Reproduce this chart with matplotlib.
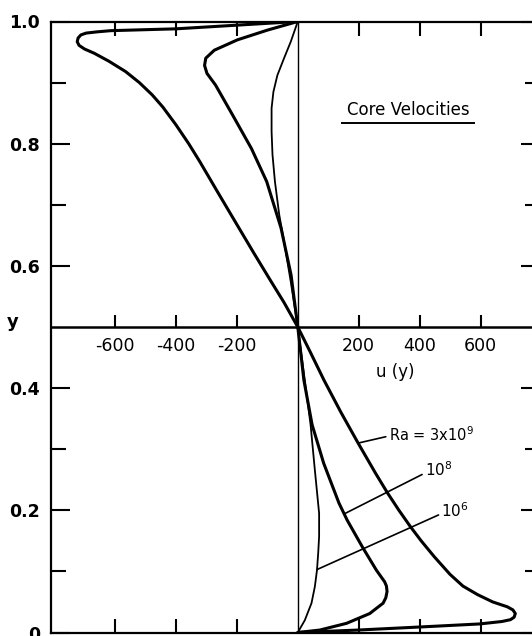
import matplotlib
matplotlib.use("Agg")
import matplotlib.pyplot as plt
from matplotlib.lines import Line2D

# ---------------- data ----------------
# Ra = 3x10^9
y_3e9 = [0.000, 0.004, 0.009, 0.014, 0.018, 0.021, 0.025, 0.031, 0.037, 0.042,
         0.050, 0.062, 0.076, 0.095, 0.124, 0.150, 0.173, 0.200, 0.228, 0.260,
         0.310, 0.360, 0.413, 0.460, 0.500, 0.540, 0.574, 0.620, 0.672, 0.720,
         0.771, 0.800, 0.831, 0.860, 0.880, 0.900, 0.918, 0.935, 0.948, 0.955,
         0.961, 0.967, 0.973, 0.978, 0.981, 0.983, 0.985, 0.988, 0.994, 1.000]
u_3e9 = [0, 197, 400, 597, 670, 698, 710, 714, 706, 688,
         640, 590, 542, 500, 448, 405, 370, 332, 295, 256,
         198, 142, 86, 40, 0, -45, -87, -143, -205, -262,
         -322, -358, -400, -443, -478, -520, -565, -620, -668, -700,
         -718, -724, -721, -712, -695, -660, -614, -400, -200, 0]

# Ra = 10^8
y_1e8 = [0.000, 0.004, 0.015, 0.031, 0.048, 0.057, 0.067, 0.076, 0.083, 0.102,
         0.140, 0.184, 0.212, 0.277, 0.340, 0.413, 0.500, 0.585, 0.662, 0.738,
         0.792, 0.847, 0.896, 0.915, 0.928, 0.940, 0.953, 0.970, 0.986, 1.000]
u_1e8 = [0, 72, 160, 236, 280, 289, 293, 291, 285, 258,
         212, 162, 135, 85, 47, 20, 0, -22, -55, -102,
         -152, -214, -270, -298, -306, -302, -274, -198, -99, 0]

# Ra = 10^6
y_1e6 = [0.000, 0.020, 0.048, 0.075, 0.102, 0.130, 0.157, 0.195, 0.266, 0.340,
         0.413, 0.500, 0.574, 0.640, 0.684, 0.738, 0.782, 0.820, 0.858, 0.885,
         0.912, 0.940, 0.967, 1.000]
u_1e6 = [0, 23, 45, 56, 63, 67, 70, 70, 56, 42,
         23, 0, -23, -45, -61, -75, -83, -86, -86, -80,
         -67, -45, -23, 0]

u_ticks = [-600, -400, -200, 200, 400, 600]
u_ticklabels = ["-600", "-400", "-200", "200", "400", "600"]
y_major = [0.0, 0.2, 0.4, 0.6, 0.8, 1.0]
y_major_labels = ["0", "0.2", "0.4", "0.6", "0.8", "1.0"]
y_minor = [0.1, 0.3, 0.7, 0.9]

curve_labels = [r"Ra = 3x10$^9$", r"10$^8$", r"10$^6$"]

# ---------------- figure ----------------
plt.rcParams["font.family"] = ["DejaVu Sans"]
plt.rcParams["mathtext.fontset"] = "dejavusans"

W, H = 532, 636
fig = plt.figure(figsize=(W / 100, H / 100), dpi=100)
left_px, right_px, top_px, bottom_px = 51, 540, 21.5, 632.5
ax = fig.add_axes([left_px / W, (H - bottom_px) / H,
                   (right_px - left_px) / W, (bottom_px - top_px) / H])
ax.set_xlim(-810, 795)
ax.set_ylim(0, 1)

for s in ax.spines.values():
    s.set_linewidth(1.6)
    s.set_color("black")

# outer x ticks (top and bottom), no labels
ax.set_xticks(u_ticks)
ax.tick_params(axis="x", which="major", direction="in", top=True, bottom=True,
               labelbottom=False, labeltop=False, length=10, width=1.5)

# y ticks
ax.set_yticks(y_major, labels=y_major_labels)
ax.set_yticks(y_minor, minor=True)
ax.tick_params(axis="y", which="both", direction="in", left=True, right=True,
               width=1.5)
ax.tick_params(axis="y", which="major", length=14, pad=8, labelsize=12.5)
ax.tick_params(axis="y", which="minor", length=11)
for lab in ax.get_yticklabels():
    lab.set_fontweight("bold")

ax.set_ylabel("y", rotation=0, fontsize=13, fontweight="bold", va="center", ha="center")
ax.yaxis.set_label_coords(-0.079, 0.508)

# central axis at y = 0.5
sec = ax.secondary_xaxis(0.5)
sec.set_alignment("bottom")
sec.set_xticks(u_ticks, labels=u_ticklabels)
sec.tick_params(axis="x", direction="in", length=9, width=1.5, pad=7, labelsize=12.5)
sec.spines["bottom"].set_linewidth(1.8)
sec.set_xlabel("u (y)", fontsize=12)
sec.xaxis.set_label_coords(321, 0.441, transform=ax.transData)

# u = 0 line
ax.axvline(0, color="black", lw=1.0)

# curves
kw = dict(color="black", solid_joinstyle="round", solid_capstyle="round")
ax.plot(u_3e9, y_3e9, lw=2.2, **kw)
ax.plot(u_1e8, y_1e8, lw=2.2, **kw)
ax.plot(u_1e6, y_1e6, lw=1.3, **kw)

# curve labels with leader lines
ap = dict(arrowstyle="-", color="black", lw=1.2, shrinkA=0, shrinkB=0)
ax.annotate(curve_labels[0], xy=(198, 0.310), xytext=(298, 0.323),
            fontsize=10.5, ha="left", va="center",
            arrowprops=dict(ap, relpos=(0, 0.45)))
ax.annotate(curve_labels[1], xy=(156, 0.195), xytext=(417, 0.267),
            fontsize=11, ha="left", va="center",
            arrowprops=dict(ap, relpos=(0, 0.3)))
ax.annotate(curve_labels[2], xy=(63, 0.103), xytext=(471, 0.199),
            fontsize=11, ha="left", va="center",
            arrowprops=dict(ap, relpos=(0, 0.35)))

# note, underlined
ax.text(362, 0.847, "Core Velocities", fontsize=12, ha="center", va="baseline")
ax.add_line(Line2D([146, 580], [0.834, 0.834], color="black", lw=1.4))

fig.savefig("out.png", dpi=100)
